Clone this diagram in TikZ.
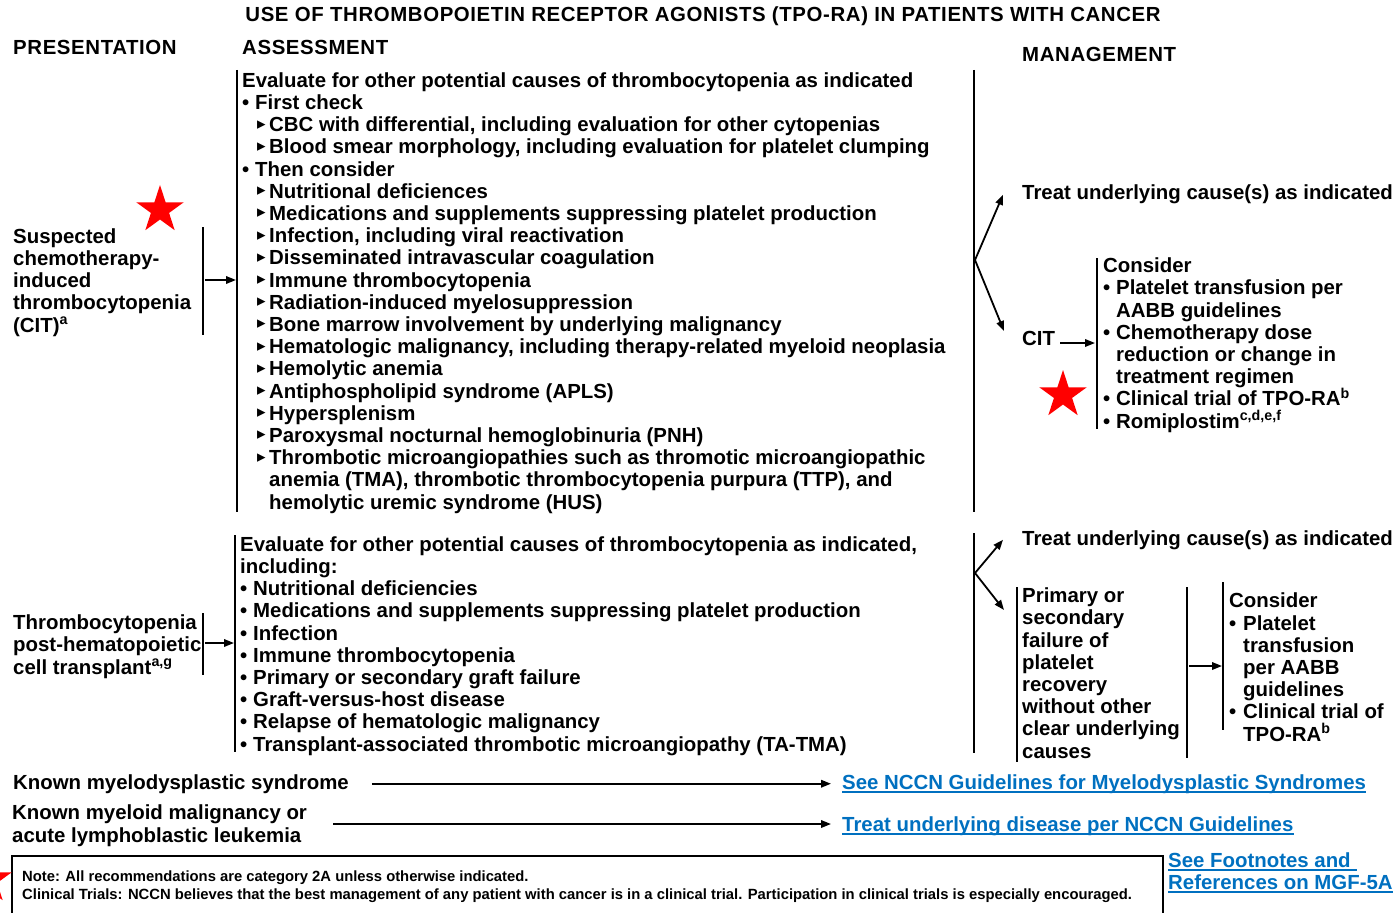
\documentclass[tikz,border=0pt]{standalone}
\usepackage{fontspec}
\setmainfont{Liberation Sans}
\newfontfamily\symfont{DejaVu Sans}
\newfontfamily\headfont[LetterSpace=3]{Liberation Sans}
\usetikzlibrary{arrows.meta, shapes.geometric, positioning}
\definecolor{linkblue}{RGB}{0,112,192}
\definecolor{starred}{RGB}{255,0,0}
\tikzset{
  % multi-line nodes sit on the baseline of their last line
  body/.style={font=\fontsize{20.4}{22.2}\selectfont\bfseries, inner sep=0pt, align=left, anchor=base west},
  heading/.style={body, font=\fontsize{20.4}{22.2}\selectfont\headfont\bfseries},
  linktext/.style={body, text=linkblue},
  notetext/.style={font=\fontsize{14.8}{18}\selectfont\bfseries, inner sep=0pt, align=left, anchor=base west},
  bar/.style={line width=2.6pt},
  arr/.style={line width=1.8pt, -{Triangle[length=10pt,width=7.5pt]}},
  uline/.style={linkblue, line width=1.5pt},
  redstar/.style={star, star points=5, star point ratio=2.618, fill=starred, minimum size=50pt, inner sep=0pt}
}
\newcommand{\bul}[1][13pt]{\makebox[#1][l]{•}}
\newcommand{\tri}{\hspace*{15pt}\makebox[12pt][l]{\raisebox{2.5pt}{\symfont\fontsize{17}{17}\selectfont ▸}}}
\newcommand{\ind}[1]{\hspace*{#1}}

\begin{document}
\begin{tikzpicture}[x=1pt,y=-1pt]
\useasboundingbox (0,0) rectangle (1396,912);
\clip (0,0) rectangle (1396,912);

% column headings
\node[heading, anchor=base] (title) at (703,22) {USE OF THROMBOPOIETIN RECEPTOR AGONISTS (TPO-RA) IN PATIENTS WITH CANCER};
\node[heading] (hpres) at (13,55) {PRESENTATION};
\node[heading] (hasm) at (242,55) {ASSESSMENT};
\node[heading] (hmgt) at (1022,62) {MANAGEMENT};

% chemotherapy-induced row
\node[body] (cit) at (13,332) {Suspected\\chemotherapy-\\induced\\thrombocytopenia\\(CIT)\textsuperscript{a}};
\node[redstar] (star1) at (160,210) {};
\draw[bar] (203,227) -- (203,335);
\coordinate (citout) at (205,280);
\coordinate (asmin) at (236,280);
\draw[arr] (citout) -- (asmin);

\draw[bar] (237,70) -- (237,512);
\node[body] (asm1) at (242,509) {Evaluate for other potential causes of thrombocytopenia as indicated\\
\bul First check\\
\tri CBC with differential, including evaluation for other cytopenias\\
\tri Blood smear morphology, including evaluation for platelet clumping\\
\bul Then consider\\
\tri Nutritional deficiences\\
\tri Medications and supplements suppressing platelet production\\
\tri Infection, including viral reactivation\\
\tri Disseminated intravascular coagulation\\
\tri Immune thrombocytopenia\\
\tri Radiation-induced myelosuppression\\
\tri Bone marrow involvement by underlying malignancy\\
\tri Hematologic malignancy, including therapy-related myeloid neoplasia\\
\tri Hemolytic anemia\\
\tri Antiphospholipid syndrome (APLS)\\
\tri Hypersplenism\\
\tri Paroxysmal nocturnal hemoglobinuria (PNH)\\
\tri Thrombotic microangiopathies such as thromotic microangiopathic\\
\ind{27pt}anemia (TMA), thrombotic thrombocytopenia purpura (TTP), and\\
\ind{27pt}hemolytic uremic syndrome (HUS)};

\draw[bar] (974,70) -- (974,512);
\coordinate (split1) at (975,260);
\node[body] (treat1) at (1022,200) {Treat underlying cause(s) as indicated};
\node[body] (cit2) at (1022,345) {CIT};
\coordinate (cit2in) at (1004,331);
\draw[arr] (split1) -- ([xshift=-19pt]treat1.west);
\draw[arr] (split1) -- (cit2in);
\coordinate (cit2out) at (1060,343);
\coordinate (cons1in) at (1095,343);
\draw[arr] (cit2out) -- (cons1in);
\draw[bar] (1097,258) -- (1097,429);
\node[body] (cons1) at (1103,428) {Consider\\
\bul Platelet transfusion per\\
\ind{13pt}AABB guidelines\\
\bul Chemotherapy dose\\
\ind{13pt}reduction or change in\\
\ind{13pt}treatment regimen\\
\bul Clinical trial of TPO-RA\textsuperscript{b}\\
\bul Romiplostim\textsuperscript{c,d,e,f}};
\node[redstar] (star2) at (1063,395) {};

% transplant row
\node[body] (hct) at (13,674) {Thrombocytopenia\\post-hematopoietic\\cell transplant\textsuperscript{a,g}};
\draw[bar] (203,613) -- (203,675);
\coordinate (hctout) at (205,643);
\coordinate (asm2in) at (234,643);
\draw[arr] (hctout) -- (asm2in);

\draw[bar] (235,535) -- (235,752);
\node[body] (asm2) at (240,751) {Evaluate for other potential causes of thrombocytopenia as indicated,\\
including:\\
\bul Nutritional deficiencies\\
\bul Medications and supplements suppressing platelet production\\
\bul Infection\\
\bul Immune thrombocytopenia\\
\bul Primary or secondary graft failure\\
\bul Graft-versus-host disease\\
\bul Relapse of hematologic malignancy\\
\bul Transplant-associated thrombotic microangiopathy (TA-TMA)};

\draw[bar] (974,533) -- (974,753);
\coordinate (split2) at (975,573);
\node[body] (treat2) at (1022,545) {Treat underlying cause(s) as indicated};
\coordinate (failin) at (1004,610);
\draw[arr] (split2) -- ([xshift=-19pt]treat2.west);
\draw[arr] (split2) -- (failin);
\draw[bar] (1017,587) -- (1017,762);
\node[body] (fail) at (1022,758) {Primary or\\secondary\\failure of\\platelet\\recovery\\without other\\clear underlying\\causes};
\draw[bar] (1187,587) -- (1187,758);
\coordinate (failout) at (1189,666);
\coordinate (cons2in) at (1222,666);
\draw[arr] (failout) -- (cons2in);
\draw[bar] (1223,582) -- (1223,730);
\node[body] (cons2) at (1229,741) {Consider\\
\bul[14pt]Platelet\\
\ind{14pt}transfusion\\
\ind{14pt}per AABB\\
\ind{14pt}guidelines\\
\bul[14pt]Clinical trial of\\
\ind{14pt}TPO-RA\textsuperscript{b}};

% known disease rows
\node[body] (mds) at (13,789) {Known myelodysplastic syndrome};
\node[linktext] (mdslink) at (842,789) {See NCCN Guidelines for Myelodysplastic Syndromes};
\draw[uline] ([yshift=-3pt]mdslink.base west) -- ([yshift=-3pt]mdslink.base east);
\draw[arr] ([xshift=23pt]mds.east) -- ([xshift=-11pt]mdslink.west);
\node[body] (aml) at (12,842) {Known myeloid malignancy or\\acute lymphoblastic leukemia};
\node[linktext] (amllink) at (842,831) {Treat underlying disease per NCCN Guidelines};
\draw[uline] ([yshift=-3pt]amllink.base west) -- ([yshift=-3pt]amllink.base east);
\coordinate (amlout) at (333,824);
\coordinate (amlend) at (831,824);
\draw[arr] (amlout) -- (amlend);

% note box
\draw[line width=2.6pt] (12,856) rectangle (1163,930);
\node[notetext] (note) at (22,899) {Note: All recommendations are category 2A unless otherwise indicated.\\
Clinical Trials: NCCN believes that the best management of any patient with cancer is in a clinical trial. Participation in clinical trials is especially encouraged.};
\node[redstar] (star3) at (-12,880) {};
\node[linktext] (fnlinka) at (1168,867) {See Footnotes and\ind{5.7pt}};
\node[linktext] (fnlinkb) at (1168,889) {References on MGF-5A};
\draw[uline] ([yshift=-3pt]fnlinka.base west) -- ([yshift=-3pt]fnlinka.base east);
\draw[uline] ([yshift=-3pt]fnlinkb.base west) -- ([yshift=-3pt]fnlinkb.base east);
\end{tikzpicture}
\end{document}
